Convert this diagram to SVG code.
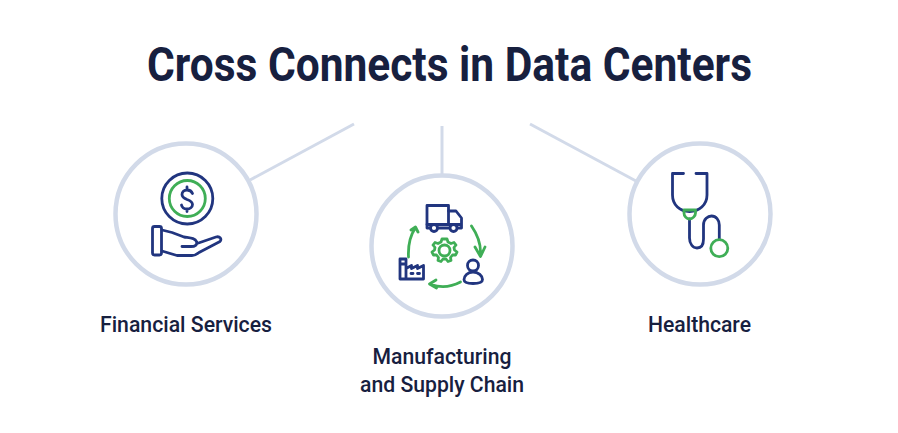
<svg xmlns="http://www.w3.org/2000/svg" width="898" height="433" viewBox="0 0 898 433">
<style>
.ring{fill:none;stroke:#d2dae9;stroke-width:4.500}
.line{fill:none;stroke:#d2dae9;stroke-width:3}
.n{fill:none;stroke:#21357f;stroke-width:2.800;stroke-linecap:round;stroke-linejoin:round}
.g{fill:none;stroke:#3fae56;stroke-width:2.800;stroke-linecap:round;stroke-linejoin:round}
text{font-family:Roboto,"Liberation Sans",sans-serif;fill:#17203f;text-anchor:middle;font-weight:500}
.t{font-size:48px;font-weight:700}
.l{font-size:22px}
</style>
<rect width="898" height="433" fill="#fff"/>
<text class="t" x="449.500" y="81" textLength="605" lengthAdjust="spacingAndGlyphs">Cross Connects in Data Centers</text>
<g id="connectors">
<path class="line" d="M250 180L354 124"/>
<path class="line" d="M442 126V174"/>
<path class="line" d="M530 124L636 181"/>
</g>
<g id="financial">
<circle class="ring" cx="186" cy="214" r="70.500"/>
<circle class="n" cx="187.300" cy="198.500" r="25.500"/>
<circle class="g" cx="187.300" cy="198.500" r="18"/>
<path class="n" d="M192.500 193.500C191.500 191 189.500 190 187 190C184 190 182 192 182 194.500C182 197.500 184.500 198.500 187 199.500C189.800 200.500 192.500 201.500 192.500 204.500C192.500 207 190 209 187 209C184 209 182 207.500 181.500 205M187 187V190M187 209V211.500"/>
<rect class="n" x="152.500" y="226.500" width="9" height="28.500" rx="2"/>
<path class="n" d="M162 230L172 232.500L184 237C190 238 195 238 196.500 241.500C197.500 245 195 246.500 191 246.500L182 246.500M197 243.500L216 237C220 236 222 239 220 241.500L199 252.500C196.500 254.500 195 255.500 192 255.500H177L162 251"/>
</g>
<g id="manufacturing">
<circle class="ring" cx="442" cy="246" r="70.500"/>
<rect class="n" x="427" y="205.500" width="21.500" height="19"/>
<path class="n" d="M448.500 211H456L461.500 218V228H458M449.500 228H438M430.500 228H427V224.500M448.500 224.500H461.500"/>
<circle class="n" cx="434" cy="228" r="3.500"/>
<circle class="n" cx="453.500" cy="228" r="3.500"/>
<path class="g" d="M471.500 226C477 234 481 244 480.500 254M475 247L480.500 256.500L485 247"/>
<path class="g" d="M460.500 282C451 287 441 288 431 284.500M436 280L429.500 284L436.500 288"/>
<path class="g" d="M408.500 257C408 247 410 236 415 228.500M411 230L415.500 227L418 232"/>
<path class="g" stroke-width="2" d="M444 239L447 239L448 242L451 243.500L454 242.500L456 245L454 247.500L454.500 250L457 252L455.500 255L452.500 255L450.500 257.500L451 260.500L448 261.500L446 259L443 259L441 261.500L438 260.500L438.500 257.500L436.500 255L433.500 255L432 252L434.500 250L435 247.500L433 245L435 242.500L438 243.500L441 242L442 239Z"/>
<circle class="g" cx="444.500" cy="250.500" r="5.500"/>
<path class="n" d="M400 279V259H406V279M400 279H423.500V265.500L417.500 268.500V265.500L411.500 268.500V265.500L406 268.500M400 264H406M411 273.500H413M417.500 273.500H419.500"/>
<circle class="n" cx="473" cy="265.500" r="5.500"/>
<path class="n" d="M473 272C467.500 272 464 276 464 279.500C464 282.500 467 283.500 473 283.500C479 283.500 482.500 282.500 482.500 279.500C482.500 276 478.500 272 473 272Z"/>
</g>
<g id="healthcare">
<circle class="ring" cx="700" cy="214" r="70.500"/>
<path class="n" d="M683.500 173.500H672.500V195C672.500 205 680 211.500 689.500 211.500C699 211.500 707 205 707 195V173.500H696"/>
<path class="n" d="M689.500 219V238C689.500 244 693 248 697 248C702 248 703.500 244 703.500 239V225C703.500 219 708 216 711.500 216C716 216 719.300 220 719.300 225V239"/>
<path class="g" d="M684 210H695.500V213C695.500 216 692.500 219 689.500 219C686.500 219 684 216 684 213Z"/>
<circle class="g" cx="719.300" cy="248.200" r="8.500"/>
</g>
<text class="l" x="186" y="332" textLength="172" lengthAdjust="spacingAndGlyphs">Financial Services</text>
<text class="l" x="442" y="364" textLength="139" lengthAdjust="spacingAndGlyphs">Manufacturing</text>
<text class="l" x="442" y="392" textLength="164" lengthAdjust="spacingAndGlyphs">and Supply Chain</text>
<text class="l" x="699.500" y="332" textLength="103" lengthAdjust="spacingAndGlyphs">Healthcare</text>
</svg>
